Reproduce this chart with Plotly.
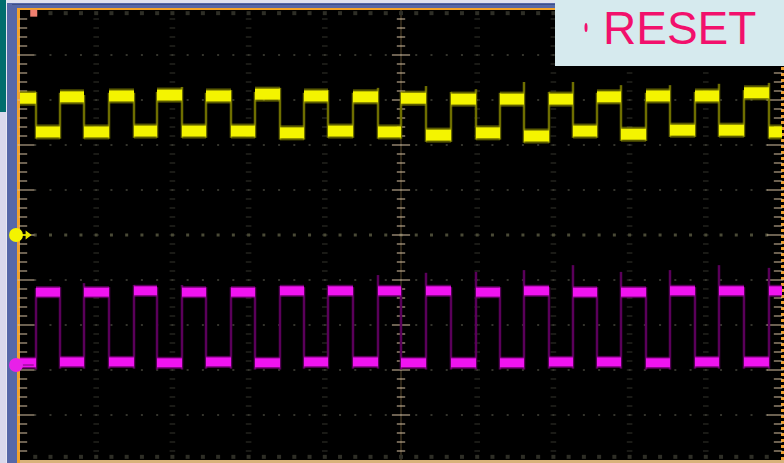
import numpy as np
import plotly.graph_objects as go

W, H = 784, 463

# ---------------- captured data (screen divisions) ----------------
# switching instants, horizontal divisions from the left edge of the screen
switch_div = [0.210, 0.525, 0.840, 1.168, 1.496, 1.798, 2.126, 2.441, 2.769,
              3.084, 3.412, 3.727, 4.042, 4.370, 4.698, 5.000, 5.328, 5.656,
              5.984, 6.299, 6.614, 6.942, 7.257, 7.572, 7.887, 8.215, 8.530,
              8.858, 9.173, 9.501, 9.829]

# CH1 (yellow) plateau of each interval, vertical divisions; starts high
ch1_level = [3.04, 2.29, 3.07, 2.29, 3.09, 2.31, 3.11, 2.31, 3.09, 2.31, 3.13,
             2.27, 3.09, 2.31, 3.07, 2.29, 3.04, 2.22, 3.02, 2.27, 3.02, 2.20,
             3.02, 2.31, 3.07, 2.24, 3.09, 2.33, 3.09, 2.33, 3.16, 2.29]
# CH2 (magenta) plateau of each interval; starts low
ch2_level = [-2.84, -1.27, -2.82, -1.27, -2.82, -1.24, -2.84, -1.27, -2.82, -1.27,
             -2.84, -1.24, -2.82, -1.24, -2.82, -1.24, -2.84, -1.24, -2.84, -1.27,
             -2.84, -1.24, -2.82, -1.27, -2.82, -1.27, -2.84, -1.24, -2.82, -1.24,
             -2.82, -1.24]

# highest excursion of each transition (overshoot / ringing spikes)
ch1_edge_top = [3.18, 3.16, 3.11, 3.16, 3.16, 3.18, 3.29, 3.16, 3.22, 3.18, 3.27,
                3.16, 3.22, 3.16, 3.27, 3.18, 3.31, 3.18, 3.24, 3.16, 3.40, 3.18,
                3.40, 3.16, 3.33, 3.16, 3.33, 3.18, 3.36, 3.22, 3.38]
ch2_edge_top = [-1.18, -1.16, -1.07, -1.16, -1.11, -1.16, -1.11, -1.16, -1.16, -1.16,
                -1.13, -1.16, -1.11, -1.16, -0.89, -1.16, -0.84, -1.16, -0.82, -1.16,
                -0.78, -1.16, -0.67, -1.16, -0.82, -1.16, -0.78, -1.16, -0.67, -1.16,
                -0.73]

trig_pos = 0.18          # trigger position marker, divisions
ch1_ground = 0.0         # channel reference levels, divisions
ch2_ground = -2.89

# ---------------- screen geometry ----------------
PX_PER_XDIV = 76.2
PX_PER_YDIV = 45.0
X0_PX, YC_PX = 20, 235
X_RANGE = [-X0_PX / PX_PER_XDIV, (W - X0_PX) / PX_PER_XDIV]
Y_RANGE = [-(H - YC_PX) / PX_PER_YDIV, YC_PX / PX_PER_YDIV]

fig = go.Figure()


def px_rect(x0, y0, x1, y1, color, layer="below"):
    fig.add_shape(type="rect", xref="paper", yref="paper",
                  x0=x0 / W, x1=x1 / W, y0=1 - y1 / H, y1=1 - y0 / H,
                  fillcolor=color, line_width=0, layer=layer)


# ---------------- instrument frame ----------------
px_rect(0, 0, 784, 3, "#dfe2ee")
px_rect(0, 0, 6, 112, "#006d6d")
px_rect(0, 112, 6, 463, "#d9d9ec")
px_rect(6, 0, 7, 463, "#e8e8f2")
px_rect(7, 3, 17, 463, "#5668a8")
px_rect(7, 3, 784, 8, "#5668a8")
px_rect(12, 4, 784, 5, "#3e5088")
px_rect(17, 8, 784, 10, "#f2a22a")
px_rect(17, 8, 20, 463, "#f2a22a")
px_rect(20, 460, 784, 463, "#d9b27a")
fig.add_shape(type="line", xref="paper", yref="paper",
              x0=782.5 / W, x1=782.5 / W, y0=1 - 460 / H, y1=1 - 10 / H,
              line=dict(color="#f0a030", width=3, dash="dot"), layer="below")

# center vertical graticule line
fig.add_shape(type="line", x0=5, x1=5, y0=-5, y1=5,
              line=dict(color="#2e2618", width=2), layer="below")

# ---------------- graticule dots ----------------
dim = "#34342c"
steps_y = np.round(np.arange(-4.8, 4.81, 0.2), 3)
steps_x = np.round(np.arange(0.2, 9.81, 0.2), 3)
vx, vy = [], []
for gx in [1, 2, 3, 4, 6, 7, 8, 9]:
    vx += [gx] * len(steps_y)
    vy += list(steps_y)
fig.add_trace(go.Scatter(x=vx, y=vy, mode="markers", hoverinfo="skip",
                         marker=dict(symbol="line-ew", size=4,
                                     line=dict(color=dim, width=1))))
hx, hy = [], []
for gy in [-4, -3, -2, -1, 1, 2, 3, 4]:
    hx += list(steps_x)
    hy += [gy] * len(steps_x)
fig.add_trace(go.Scatter(x=hx, y=hy, mode="markers", hoverinfo="skip",
                         marker=dict(symbol="square", size=2, color=dim)))
# top / bottom edge marks
ex = list(steps_x) * 2
ey = [4.93] * len(steps_x) + [-4.93] * len(steps_x)
fig.add_trace(go.Scatter(x=ex, y=ey, mode="markers", hoverinfo="skip",
                         marker=dict(symbol="square", size=4, color="#2e2e26")))
# center horizontal line marks
fig.add_trace(go.Scatter(x=list(steps_x), y=[0] * len(steps_x), mode="markers",
                         hoverinfo="skip",
                         marker=dict(symbol="square", size=3, color="#4a4a36")))
# tick marks on center vertical line and on left / right edges
minor_y = [v for v in steps_y if abs(v - round(v)) > 1e-6]
major_y = [v for v in range(-4, 5)]
tick = "#d8c2a2"
for xc in [5, 3 / PX_PER_XDIV, 9.948]:
    fig.add_trace(go.Scatter(x=[xc] * len(minor_y), y=minor_y, mode="markers",
                             hoverinfo="skip",
                             marker=dict(symbol="line-ew", size=6,
                                         line=dict(color=tick, width=1))))
for xc in [6 / PX_PER_XDIV, 9.91]:
    fig.add_trace(go.Scatter(x=[xc] * len(major_y), y=major_y, mode="markers",
                             hoverinfo="skip",
                             marker=dict(symbol="line-ew", size=12,
                                         line=dict(color=tick, width=1))))
fig.add_trace(go.Scatter(x=[5] * len(major_y), y=major_y, mode="markers",
                         hoverinfo="skip",
                         marker=dict(symbol="line-ew", size=13,
                                     line=dict(color=tick, width=1))))

# ---------------- waveforms ----------------
bounds = [0.0] + switch_div + [10.0]


def plateaus(levels):
    xs, ys = [], []
    for i, lv in enumerate(levels):
        xs += [bounds[i], bounds[i + 1], None]
        ys += [lv, lv, None]
    return xs, ys


def transitions(levels, tops):
    xs, ys = [], []
    for i, t in enumerate(switch_div):
        lo = min(levels[i], levels[i + 1]) - 0.15
        xs += [t, t, None]
        ys += [lo, tops[i], None]
    return xs, ys


for levels, tops, edge_col, halo_col, core_col, halo_w, core_w in [
        (ch1_level, ch1_edge_top, "#6e6e00", "rgba(150,150,0,0.6)", "#f4f400", 15, 11),
        (ch2_level, ch2_edge_top, "#5a005a", "rgba(150,0,150,0.6)", "#f014f0", 12, 9)]:
    tx, ty = transitions(levels, tops)
    fig.add_trace(go.Scatter(x=tx, y=ty, mode="lines", hoverinfo="skip",
                             line=dict(color=edge_col, width=2.5)))
    px_, py_ = plateaus(levels)
    fig.add_trace(go.Scatter(x=px_, y=py_, mode="lines", hoverinfo="skip",
                             line=dict(color=halo_col, width=halo_w)))
    fig.add_trace(go.Scatter(x=px_, y=py_, mode="lines", hoverinfo="skip",
                             line=dict(color=core_col, width=core_w)))

# ---------------- channel / trigger markers ----------------
mx = -4 / PX_PER_XDIV
fig.add_trace(go.Scatter(x=[mx, 0.12], y=[ch1_ground, ch1_ground], mode="lines",
                         hoverinfo="skip", line=dict(color="#c8c800", width=2)))
fig.add_trace(go.Scatter(x=[0.1], y=[ch1_ground], mode="markers", hoverinfo="skip",
                         cliponaxis=False,
                         marker=dict(symbol="triangle-right", size=8, color="#e6e600")))
fig.add_trace(go.Scatter(x=[mx], y=[ch1_ground], mode="markers", hoverinfo="skip",
                         cliponaxis=False,
                         marker=dict(symbol="circle", size=14, color="#f4f400")))
fig.add_trace(go.Scatter(x=[mx, 0.18], y=[ch2_ground, ch2_ground], mode="lines",
                         hoverinfo="skip", line=dict(color="#b010b0", width=2)))
fig.add_trace(go.Scatter(x=[mx], y=[ch2_ground], mode="markers", hoverinfo="skip",
                         cliponaxis=False,
                         marker=dict(symbol="circle", size=14, color="#e820e8")))
fig.add_trace(go.Scatter(x=[trig_pos], y=[4.93], mode="markers", hoverinfo="skip",
                         cliponaxis=False,
                         marker=dict(symbol="square", size=7, color="#f08070")))

# ---------------- RESET badge ----------------
px_rect(555, 0, 784, 66, "#d6eaee", layer="above")
fig.add_shape(type="circle", xref="paper", yref="paper",
              x0=584.5 / W, x1=587.5 / W, y0=1 - 32 / H, y1=1 - 23 / H,
              fillcolor="#f2106c", line_width=0, layer="above")
fig.add_annotation(text="RESET", xref="paper", yref="paper",
                   x=679.5 / W, y=1 - 28.5 / H, xanchor="center", yanchor="middle",
                   showarrow=False,
                   font=dict(family="Liberation Sans, Arial", size=46, color="#f2106c"))

fig.update_layout(
    width=W, height=H, margin=dict(l=0, r=0, t=0, b=0),
    paper_bgcolor="#000000", plot_bgcolor="#000000", showlegend=False,
    xaxis=dict(range=X_RANGE, visible=False, fixedrange=True),
    yaxis=dict(range=Y_RANGE, visible=False, fixedrange=True),
)

fig.write_html("out.html")
